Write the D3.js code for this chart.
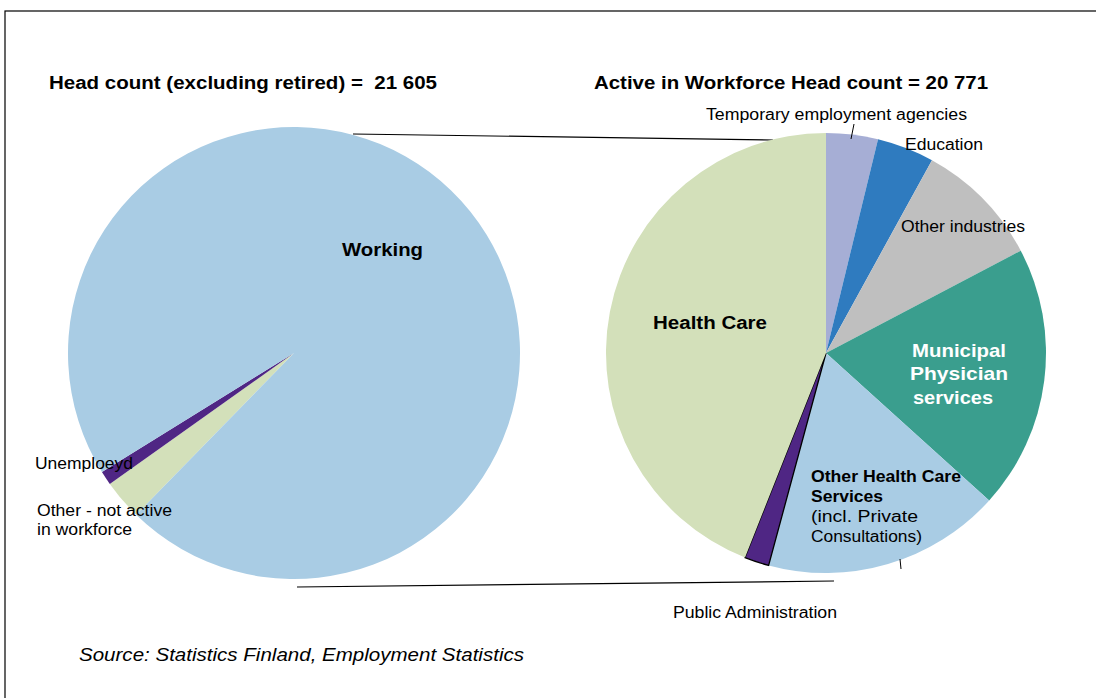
<!DOCTYPE html>
<html>
<head>
<meta charset="utf-8">
<script src="https://cdn.jsdelivr.net/npm/d3@7"></script>
<style>
  body { margin: 0; background: #fff; }
  svg { display: block; font-family: "Liberation Sans", Arial, sans-serif; }
  text { white-space: pre; }
</style>
</head>
<body>
<svg id="chart" width="1096" height="698"></svg>
<script>
// ---- Data ----
const leftTitle = "Head count (excluding retired) =  21 605";
const rightTitle = "Active in Workforce Head count = 20 771";
const leftCategories = ["Other - not active in workforce", "Unemploeyd", "Working"];
const leftValues = [618, 216, 20771];
const leftColors = ["#d3e0ba", "#4f2684", "#a9cce4"];

const rightCategories = ["Temporary employment agencies", "Education", "Other industries",
  "Municipal Physician services", "Other Health Care Services (incl. Private Consultations)",
  "Public Administration", "Health Care"];
const rightValues = [3.8, 4.2, 9.3, 19.4, 17.5, 1.8, 44.0];
const rightColors = ["#a6aed5", "#2f7bbf", "#bfbfbf", "#3a9e8e", "#a9cce4", "#4f2684", "#d3e0ba"];
const sourceText = "Source: Statistics Finland, Employment Statistics";

const svg = d3.select("#chart");

// frame
svg.append("rect").attr("x", 5).attr("y", 11).attr("width", 1200).attr("height", 800)
  .attr("fill", "none").attr("stroke", "#000").attr("stroke-width", 1.2);

// connecting lines
svg.append("line").attr("x1", 353).attr("y1", 134).attr("x2", 773).attr("y2", 140)
  .attr("stroke", "#000").attr("stroke-width", 1.2);
svg.append("line").attr("x1", 297).attr("y1", 587).attr("x2", 834).attr("y2", 581)
  .attr("stroke", "#000").attr("stroke-width", 1.2);

// left pie
const deg = Math.PI / 180;
const leftPie = d3.pie().sort(null).startAngle(224.3 * deg).endAngle(224.3 * deg + 2 * Math.PI);
const leftArc = d3.arc().innerRadius(0).outerRadius(226);
const gL = svg.append("g").attr("transform", "translate(294,353)");
gL.selectAll("path").data(leftPie(leftValues)).join("path")
  .attr("d", leftArc).attr("fill", (d, i) => leftColors[i]);

// right pie
const rightPie = d3.pie().sort(null);
const rightArc = d3.arc().innerRadius(0).outerRadius(220);
const gR = svg.append("g").attr("transform", "translate(826,353)");
gR.selectAll("path").data(rightPie(rightValues)).join("path")
  .attr("d", rightArc).attr("fill", (d, i) => rightColors[i])
  .attr("stroke", (d, i) => rightCategories[i] === "Public Administration" ? "#000" : "none")
  .attr("stroke-width", 1.3);

// leader ticks
svg.append("line").attr("x1", 854).attr("y1", 124).attr("x2", 851).attr("y2", 139)
  .attr("stroke", "#000").attr("stroke-width", 1);
svg.append("line").attr("x1", 900).attr("y1", 559).attr("x2", 901).attr("y2", 569)
  .attr("stroke", "#000").attr("stroke-width", 1);

// text helper
function txt(x, y, s, opts = {}) {
  const t = svg.append("text").attr("x", x).attr("y", y).text(s)
    .attr("font-size", opts.size || 16)
    .attr("font-weight", opts.bold ? "bold" : "normal")
    .attr("font-style", opts.italic ? "italic" : "normal")
    .attr("fill", opts.fill || "#000")
    .attr("text-anchor", opts.anchor || "start");
  if (opts.len) t.attr("textLength", opts.len).attr("lengthAdjust", "spacingAndGlyphs");
  return t;
}

// titles
txt(49, 89, leftTitle, { size: 18, bold: true, len: 388 });
txt(594, 89, rightTitle, { size: 18, bold: true, len: 394 });

// left labels
txt(342, 256, "Working", { size: 18, bold: true, len: 81 });
txt(35, 469, "Unemploeyd", { size: 16, len: 98 });
txt(37, 516, "Other - not active", { size: 16, len: 135 });
txt(37, 535, "in workforce", { size: 16, len: 95 });

// right labels
txt(706, 120, "Temporary employment agencies", { size: 16, len: 261 });
txt(905, 150, "Education", { size: 16, len: 78 });
txt(901, 232, "Other industries", { size: 16, len: 124 });
txt(653, 329, "Health Care", { size: 18, bold: true, len: 114 });
txt(912, 357, "Municipal", { size: 19, bold: true, fill: "#fff", len: 94 });
txt(910, 380, "Physician", { size: 19, bold: true, fill: "#fff", len: 98 });
txt(913, 404, "services", { size: 19, bold: true, fill: "#fff", len: 80 });
txt(811, 482, "Other Health Care", { size: 16, bold: true, len: 150 });
txt(811, 502, "Services", { size: 16, bold: true, len: 72 });
txt(811, 522, "(incl. Private", { size: 16, len: 107 });
txt(811, 542, "Consultations)", { size: 16, len: 111 });
txt(673, 618, "Public Administration", { size: 16, len: 164 });

// source
txt(79, 661, sourceText, { size: 18, italic: true, len: 445 });
</script>
</body>
</html>
